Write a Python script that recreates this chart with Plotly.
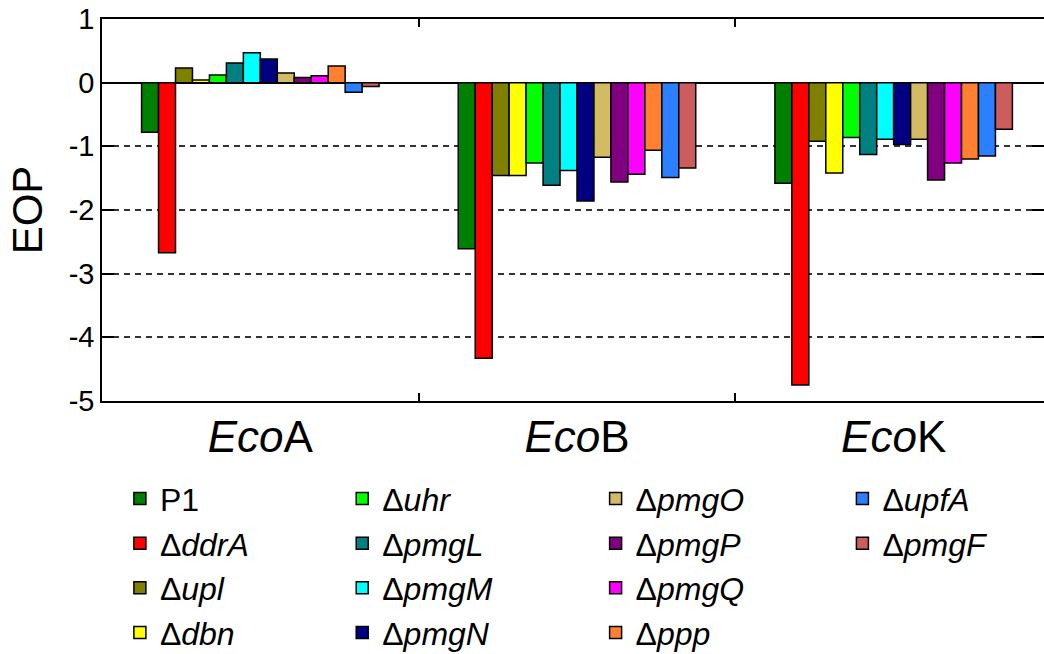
import plotly.graph_objects as go

groups = ["<i>Eco</i>A", "<i>Eco</i>B", "<i>Eco</i>K"]
strains = ["P1", "Δ<i>ddrA</i>", "Δ<i>upl</i>", "Δ<i>dbn</i>", "Δ<i>uhr</i>",
           "Δ<i>pmgL</i>", "Δ<i>pmgM</i>", "Δ<i>pmgN</i>", "Δ<i>pmgO</i>",
           "Δ<i>pmgP</i>", "Δ<i>pmgQ</i>", "Δ<i>ppp</i>", "Δ<i>upfA</i>", "Δ<i>pmgF</i>"]
colors = ["#008000", "#FF0000", "#808000", "#FFFF00", "#00FF00", "#008080", "#00FFFF",
          "#000080", "#D3BB63", "#800080", "#FF00FF", "#FF8030", "#2A80FF", "#CD5C5C"]

# EOP values per strain: [EcoA, EcoB, EcoK]
P1 = [-0.78, -2.61, -1.58]
ddrA = [-2.67, -4.33, -4.75]
upl = [0.23, -1.46, -0.92]
dbn = [0.04, -1.46, -1.42]
uhr = [0.12, -1.26, -0.86]
pmgL = [0.31, -1.61, -1.13]
pmgM = [0.47, -1.38, -0.89]
pmgN = [0.37, -1.86, -0.97]
pmgO = [0.15, -1.17, -0.89]
pmgP = [0.08, -1.56, -1.53]
pmgQ = [0.11, -1.44, -1.26]
ppp = [0.26, -1.06, -1.20]
upfA = [-0.15, -1.49, -1.15]
pmgF = [-0.06, -1.34, -0.73]
values = [P1, ddrA, upl, dbn, uhr, pmgL, pmgM, pmgN, pmgO, pmgP, pmgQ, ppp, upfA, pmgF]

y_tickvals = [1, 0, -1, -2, -3, -4, -5]
y_ticktext = ["1", "0", "-1", "-2", "-3", "-4", "-5"]

legend_cols = ["legend", "legend2", "legend3", "legend4"]

fig = go.Figure()
for i, (name, col, vals) in enumerate(zip(strains, colors, values)):
    fig.add_trace(go.Bar(
        x=groups, y=vals, name=name,
        marker=dict(color=col, line=dict(color="black", width=1.5)),
        legend=legend_cols[min(i // 4, 3)],
    ))

font = "Liberation Sans, Arial, sans-serif"
leg_common = dict(
    orientation="v", yanchor="top", xanchor="left",
    font=dict(family=font, size=32, color="black"),
    bgcolor="rgba(0,0,0,0)", tracegroupgap=0, itemwidth=30,
)
leg_y = -0.184
fig.update_layout(
    width=1044, height=654,
    margin=dict(l=102, r=0, t=19, b=253, autoexpand=False),
    paper_bgcolor="white", plot_bgcolor="white",
    barmode="group", bargap=0.25, bargroupgap=0,
    font=dict(family=font, color="black"),
    legend=dict(x=0.019, y=leg_y, **leg_common),
    legend2=dict(x=0.255, y=leg_y, **leg_common),
    legend3=dict(x=0.524, y=leg_y, **leg_common),
    legend4=dict(x=0.786, y=leg_y, **leg_common),
    xaxis=dict(
        type="category", range=[-0.5, 2.5 - 8 / 317],
        tickson="boundaries", ticks="inside", ticklen=8, tickwidth=1.5, tickcolor="black",
        showline=True, linecolor="black", linewidth=1.5, mirror="ticks",
        showgrid=False, tickfont=dict(size=44, family=font, color="black"),
        ticklabelstandoff=-4, automargin=False,
    ),
    yaxis=dict(
        range=[-5, 1], tickvals=y_tickvals, ticktext=y_ticktext,
        ticks="inside", ticklen=12, tickwidth=1.5, tickcolor="black",
        showline=True, linecolor="black", linewidth=1.5, mirror="ticks",
        showgrid=True, gridcolor="#333333", gridwidth=1.5, griddash="6px,5px",
        zeroline=True, zerolinecolor="black", zerolinewidth=1.5,
        tickfont=dict(size=29, family=font, color="black"), automargin=False,
        title=dict(text="EOP", font=dict(size=42, family=font, color="black"), standoff=13),
    ),
)
fig.write_html("out.html")
